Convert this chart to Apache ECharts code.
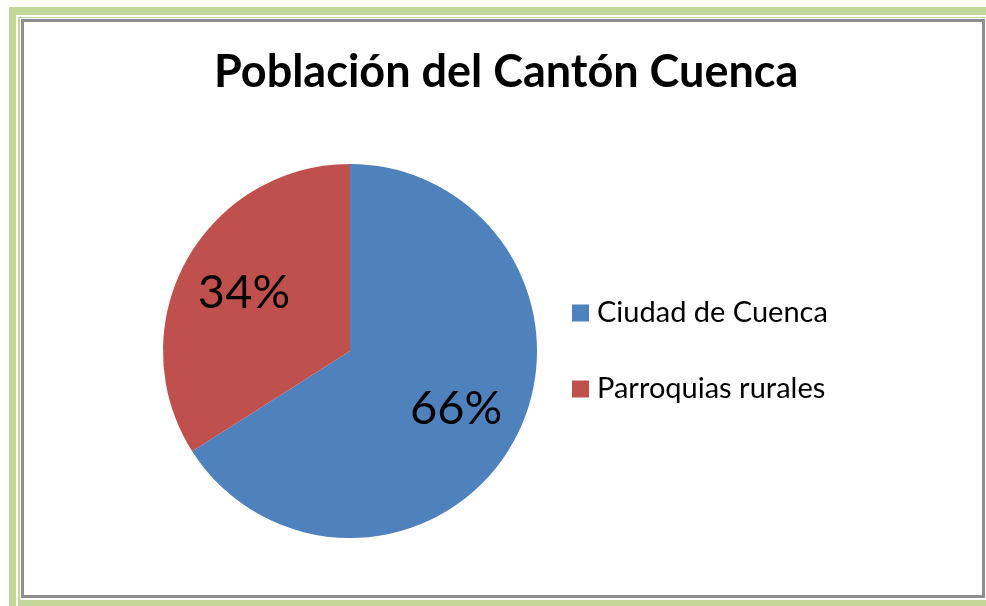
<!DOCTYPE html>
<html>
<head>
<meta charset="utf-8">
<script src="https://cdn.jsdelivr.net/npm/echarts@6/dist/echarts.min.js"></script>
<style>
html,body{margin:0;padding:0;background:#fff;}
#c{width:986px;height:606px;}
</style>
</head>
<body>
<div id="c"></div>
<script>
const titleText = 'Población del Cantón Cuenca';
const categories = ['Ciudad de Cuenca', 'Parroquias rurales'];
const values = [66, 34];
const colors = ['#4F81BD', '#C0504D'];

const data = categories.map((n, i) => ({ name: n, value: values[i], itemStyle: { color: colors[i] } }));
const labelData = categories.map((n, i) => ({ name: n, value: values[i] }));

const chart = echarts.init(document.getElementById('c'), null, { renderer: 'canvas' });
chart.setOption({
  animation: false,
  backgroundColor: '#ffffff',
  graphic: [
    { type: 'rect', z: -10, shape: { x: 9, y: 7, width: 1000, height: 620 }, style: { fill: '#C4D79B' } },
    { type: 'rect', z: -9, shape: { x: 17, y: 16, width: 990, height: 610 }, style: { fill: null, stroke: '#ffffff', lineWidth: 2 } },
    { type: 'rect', z: -8, shape: { x: 20, y: 18, width: 966, height: 582 }, style: { fill: '#ffffff' } },
    { type: 'rect', z: -7, shape: { x: 22.5, y: 20.5, width: 961, height: 576 }, style: { fill: null, stroke: '#8E8E8E', lineWidth: 3 } }
  ],
  title: {
    text: titleText,
    left: 209,
    top: 45,
    textStyle: { fontFamily: 'Lato', fontWeight: 'bold', fontSize: 45, color: '#000' }
  },
  legend: {
    orient: 'vertical',
    left: 567,
    top: 293,
    itemWidth: 17,
    itemHeight: 17,
    itemGap: 46,
    icon: 'rect',
    data: categories,
    selectedMode: false,
    textStyle: { fontFamily: 'Lato', fontSize: 29, color: '#000', lineHeight: 30, padding: [0, 0, 0, 3] }
  },
  series: [
    {
      type: 'pie',
      center: [350, 351],
      radius: [0, 187],
      startAngle: 90,
      clockwise: true,
      data: data,
      label: { show: false },
      labelLine: { show: false },
      emphasis: { disabled: true }
    },
    {
      type: 'pie',
      center: [350, 351],
      radius: [0, 236],
      startAngle: 90,
      clockwise: true,
      silent: true,
      legendHoverLink: false,
      data: labelData,
      itemStyle: { color: 'rgba(0,0,0,0)' },
      label: { show: true, position: 'inside', formatter: '{c}%', fontFamily: 'Lato', fontSize: 47, color: '#000' },
      labelLine: { show: false },
      emphasis: { disabled: true }
    }
  ]
});
</script>
</body>
</html>
